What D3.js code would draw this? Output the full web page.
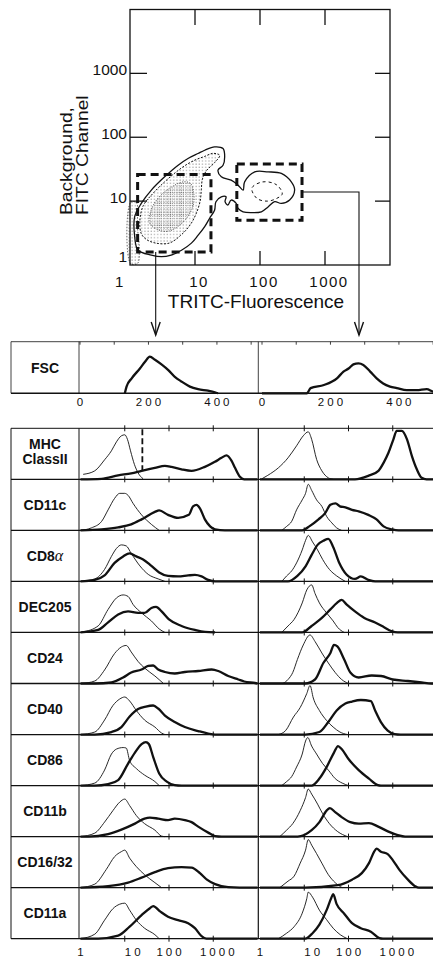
<!DOCTYPE html>
<html>
<head>
<meta charset="utf-8">
<script src="https://cdn.jsdelivr.net/npm/d3@7"></script>
<style>
  body { margin: 0; background: #fff; }
  svg { display: block; font-family: "Liberation Sans", Arial, sans-serif; }
</style>
</head>
<body>
<svg id="fig" width="433" height="958"></svg>
<script>
// ---------- data: dot plot (TRITC vs background FITC) ----------
const scatterTicks = [1, 10, 100, 1000];
// contour outlines as [TRITC, FITC] pairs
const outerContour = [[1.33,1.7],[1.18,2.8],[1.18,5.7],[1.49,9.2],[2.13,14.9],[3.41,24],[5.5,36.5],[7.8,46.5],
  [11.1,55.6],[14.1,62.6],[20,70.6],[27,66.5],[28.6,49.3],[27,36.5],[22.6,30.5],[25.4,24],[36,21.3],[46,17.8],
  [55,14.9],[58,20],[83,28.7],[133,28.7],[213,27.1],[303,20],[341,14.9],[286,10.4],[213,9.2],[168,9.8],[133,8.1],
  [105,6.8],[73,6.6],[55,6.8],[46,7.7],[43,9.2],[36,10.4],[32,8.7],[29,9.8],[30,11.7],[25.4,11.7],[21,9.8],
  [20,7.2],[16.8,5.4],[14.1,4.0],[11.1,2.9],[8.8,2.2],[6.2,1.7],[4.3,1.43],[3.04,1.35],[2.13,1.43]];
const midContour = [[1.49,3.1],[1.42,5],[1.6,8.5],[2.3,13.5],[3.4,20],[5,28],[7,36],[10,44],[14,50],[19,56],
  [24,52],[20,40],[15,30],[13,22],[12.5,15],[12,10],[10.5,6.5],[8.5,4.3],[6,2.9],[4,2.2],[2.5,2.2],[1.8,2.5]];
const coreContour = [[2.0,4.5],[2.2,8],[3,12.5],[4.5,17],[6.5,20],[8.5,19],[9.5,14],[9.5,9],[8,6],[6,4.3],[4,3.4],[2.8,3.5]];
const axisContour = [[1.02,1.05],[1.02,9.5],[1.25,9.5],[1.3,4],[1.4,1.5],[1.3,1.05]];
const highCoreContour = [[75,16],[110,20],[180,18],[220,13],[180,11],[130,10],[90,11]];
// gates: [[xmin, ymin], [xmax, ymax]]
const gateLow = [[1.31, 1.6], [17.6, 26]];
const gateHigh = [[44, 5.0], [443, 38]];

// ---------- data: FSC histograms ----------
const fscTicks = [0, 200, 400];
const fscLow = [[131,0],[136,13],[151,29],[175,48],[190,61],[204,71],[219,65],[238,56],[258,45],[277,32],
  [296,23],[321,13],[345,8],[374,5],[394,2],[403,0]];
const fscHigh = [[0,0],[131,0],[142,10],[181,16],[219,29],[238,42],[253,48],[267,56],[282,58],[296,55],
  [316,42],[335,29],[354,19],[374,13],[394,10],[423,6],[452,6],[481,8],[501,3],[520,2]];

// ---------- data: marker histograms (intensity, % of max) ----------
const histTicks = [1, 10, 100, 1000];
const markers = ["MHC|ClassII", "CD11c", "CD8α", "DEC205", "CD24", "CD40", "CD86", "CD11b", "CD16/32", "CD11a"];
const mhcCutoff = 25;

const ctrlLow = [
  [[1.15,10],[2.1,17],[3.5,39],[5,57],[6.5,75],[8.4,87],[10,89],[11.5,80],[13.5,57],[16.5,30],[20,13],[26,1]],
  [[1,0],[1.76,5],[3,18],[4.2,41],[5.9,64],[7.7,74],[10,74],[11.9,70],[15.4,54],[24,31],[40,12],[60,0]],
  [[1,0],[2.1,5],[3.5,24],[5,50],[6.5,66],[8.4,73],[10.8,71],[14,56],[22,31],[34,14],[57,5],[81,0]],
  [[1.1,1],[2.5,13],[4.2,46],[6.5,69],[9.2,75],[11.9,72],[15.4,56],[24,39],[40,23],[60,7],[81,0]],
  [[1.05,0],[2.1,5],[3.5,27],[5.9,60],[8.4,73],[10.8,76],[14,63],[20,44],[28,31],[48,15],[75,0]],
  [[1,0],[2.1,5],[3.5,29],[5.4,58],[7.7,71],[10,75],[12.9,67],[18.3,48],[28,29],[48,15],[68,3],[81,0]],
  [[1,0],[2.1,5],[3.5,31],[5,63],[6.5,73],[9.2,76],[10.8,75],[12.9,50],[18.3,34],[28,21],[48,8],[60,0]],
  [[1,0],[2.1,7],[3.5,29],[5.4,52],[7.7,69],[10,75],[12.9,62],[18.3,42],[28,26],[48,13],[68,1],[81,0]],
  [[1,0],[2.1,7],[3.8,36],[5.9,62],[8.4,72],[10,75],[12.9,59],[18.3,42],[28,26],[48,10],[68,0]],
  [[1,0],[2.1,9],[3.5,37],[5.4,60],[7.7,69],[10,71],[12.9,57],[18.3,37],[28,21],[48,8],[60,0]]
];
const stainLow = [
  [[1,0],[3,1],[7.1,8],[14,12],[24,17],[48,23],[81,27],[114,25],[192,20],[323,17],[647,25],[1090,35],[1540,43],
   [2000,48],[2600,37],[3100,23],[4000,5],[5000,0],[10000,0]],
  [[1,0],[3,2],[7.1,6],[14,12],[24,22],[48,37],[60,40],[95,31],[161,25],[280,31],[350,48],[420,51],[500,44],
   [647,22],[850,8],[1100,2],[1830,0],[10000,0]],
  [[1,0],[2.1,3],[3.5,12],[5.9,37],[9.2,50],[12.9,56],[18.3,50],[26,44],[40,31],[60,18],[95,11],[161,10],
   [271,12],[385,13],[544,10],[770,3],[1100,0],[10000,0]],
  [[1,0],[2.5,5],[4.2,20],[7.1,36],[11.9,42],[20,39],[28,39],[40,49],[51,51],[68,42],[100,26],[192,13],
   [385,5],[650,1],[1100,0]],
  [[1,0],[2.1,0],[5,2],[9.2,12],[14,22],[24,28],[34,35],[44,36],[57,28],[81,23],[135,20],[228,23],[457,25],
   [920,28],[1300,25],[2180,15],[3690,8],[5000,4],[8770,1],[10000,0]],
  [[1,0],[2.1,0],[5,5],[8.4,15],[12.9,36],[20,51],[30,56],[44,58],[57,52],[81,38],[135,25],[228,15],[457,7],
   [770,2],[1100,0],[10000,0]],
  [[1,0],[2.1,0],[4.2,3],[7.1,11],[11.9,44],[17,66],[24,83],[30,87],[35,83],[44,57],[60,24],[89,8],[135,1],
   [192,0],[10000,0]],
  [[1,0],[1.5,0],[4.2,5],[8.4,14],[17,26],[28,36],[37,38],[57,36],[95,33],[135,36],[228,33],[323,29],[457,20],
   [770,8],[1100,1],[1540,0],[10000,0]],
  [[1,0],[4.2,3],[11.9,10],[24,20],[48,31],[95,39],[192,41],[323,40],[500,29],[720,16],[1100,7],[2180,1],
   [7000,0],[10000,0]],
  [[1,0],[2.5,0],[7.1,6],[12.9,24],[24,47],[37,61],[44,65],[64,54],[95,44],[161,37],[271,31],[385,21],[544,5],
   [700,0],[10000,0]]
];
const ctrlHigh = [
  [[1.1,1],[1.5,8],[2.6,23],[4.3,43],[6.7,67],[9.5,87],[12.3,95],[14.7,80],[19,40],[25,17],[35,3],[45,0]],
  [[3.1,0],[4,8],[5.2,18],[6.7,41],[9,61],[10.7,74],[12.3,92],[14.7,80],[19,61],[25,48],[32,28],[42,15],[54,5],[70,0]],
  [[3.1,0],[4,11],[5.2,21],[6.7,37],[9,63],[10.7,82],[12.3,92],[15.4,79],[20,63],[26,44],[37,24],[54,11],[85,0]],
  [[3.1,0],[4.3,13],[5.9,26],[9,59],[11.4,85],[14.7,95],[17.5,78],[22,59],[32,39],[45,23],[57,10],[80,0]],
  [[3.3,0],[4.3,8],[5.5,22],[7,48],[9.5,77],[13.5,97],[17.5,84],[25,61],[35,41],[50,22],[70,8],[100,0]],
  [[2.6,0],[3.8,8],[5.7,35],[8.1,54],[11.4,82],[13.5,98],[16,73],[22,48],[32,28],[45,15],[64,5],[95,0]],
  [[3.1,0],[4,8],[5.2,18],[6.7,37],[9,63],[10.7,89],[12,96],[14.7,79],[19,63],[26,44],[35,31],[50,14],[72,5],[100,0]],
  [[2.8,0],[4,13],[5.5,26],[8.1,52],[10.7,78],[12.3,95],[14.7,85],[20,65],[26,46],[37,26],[57,10],[95,0]],
  [[2.8,0],[4.3,13],[5.9,23],[8.1,49],[10.7,75],[12.3,96],[14.7,85],[19,68],[25,49],[35,26],[50,10],[72,0]],
  [[2.6,0],[4,11],[5.9,24],[9,51],[11.4,80],[12.3,93],[15.4,83],[22,57],[32,38],[45,21],[65,8],[95,0]]
];
const stainHigh = [
  [[1,0],[140,0],[280,7],[475,17],[620,33],[800,53],[1035,80],[1230,97],[1600,97],[2100,80],[2700,47],
   [3500,20],[4500,3],[5800,0],[10000,0]],
  [[1,0],[9,0],[13,8],[21,22],[30,35],[39,51],[51,54],[64,48],[85,46],[120,41],[170,38],[280,31],[430,22],
   [620,8],[960,2],[1340,0],[10000,0]],
  [[1,0],[4.3,0],[7,11],[10.7,30],[14.7,53],[20,73],[28,82],[35,85],[45,69],[62,37],[90,14],[140,5],[190,10],
   [280,3],[400,0],[10000,0]],
  [[1,0],[9,0],[14.7,13],[25,29],[39,46],[55,59],[70,65],[90,56],[140,42],[228,29],[400,20],[650,10],[920,3],
   [1300,0],[10000,0]],
  [[1,0],[10.5,0],[17.5,8],[27,41],[39,61],[47,77],[56,74],[80,48],[110,22],[170,12],[335,16],[545,15],
   [1000,8],[2200,5],[4500,2],[7500,0],[10000,0]],
  [[1,0],[10.5,0],[22,5],[35,25],[54,48],[85,62],[120,66],[190,69],[320,67],[400,48],[540,25],[770,8],
   [1100,1],[1500,0],[10000,0]],
  [[1,0],[14.7,0],[22,14],[32,37],[47,66],[58,79],[70,73],[100,53],[170,31],[290,14],[460,1],[540,0],[10000,0]],
  [[1,0],[7.1,0],[14.7,13],[22,29],[32,52],[38,57],[50,49],[70,39],[110,29],[170,26],[290,27],[470,20],
   [800,10],[1300,3],[1900,0],[10000,0]],
  [[1,0],[10.5,0],[57,5],[120,16],[200,29],[290,49],[380,72],[430,78],[540,72],[770,67],[1000,55],[1400,36],
   [2200,16],[3200,3],[3900,0],[10000,0]],
  [[1,0],[10.5,0],[15.4,11],[22,28],[32,57],[41,82],[45,89],[54,69],[80,50],[120,31],[190,21],[320,14],
   [500,1],[600,0],[10000,0]]
];

// ---------- layout ----------
const svg = d3.select("#fig");
const ink = "#111";

const defs = svg.append("defs");
function stipple(id, step, size) {
  defs.append("pattern").attr("id", id)
    .attr("width", step).attr("height", step).attr("patternUnits", "userSpaceOnUse")
    .append("rect").attr("x", 0.5).attr("y", 0.5).attr("width", size).attr("height", size).attr("fill", "#333");
}
stipple("stipLight", 3.2, 0.8);
stipple("stipDense", 2.2, 0.8);

// --- dot plot ---
const sx = d3.scaleLog().domain([1, 1e4]).range([130, 390]);
const sy = d3.scaleLog().domain([1, 1e4]).range([265, 9.5]);
const dot = svg.append("g");

const closed = d3.line().x(d => sx(d[0])).y(d => sy(d[1])).curve(d3.curveCatmullRomClosed.alpha(0.5));

dot.append("path").attr("d", closed(outerContour))
  .attr("fill", "#fff").attr("stroke", ink).attr("stroke-width", 1.3);
dot.append("path").attr("d", closed(axisContour))
  .attr("fill", "url(#stipLight)").attr("stroke", "#444").attr("stroke-width", 0.8).attr("stroke-dasharray", "1.5,1.5");
dot.append("path").attr("d", closed(midContour))
  .attr("fill", "url(#stipLight)").attr("stroke", ink).attr("stroke-width", 1).attr("stroke-dasharray", "2,1.5");
dot.append("path").attr("d", closed(coreContour))
  .attr("fill", "url(#stipDense)").attr("stroke", "#333").attr("stroke-width", 0.8).attr("stroke-dasharray", "1,1.5");
dot.append("path").attr("d", closed(highCoreContour))
  .attr("fill", "none").attr("stroke", ink).attr("stroke-width", 1).attr("stroke-dasharray", "3,3");

// frame and ticks
const ticksG = dot.append("g").attr("stroke", ink).attr("stroke-width", 1.3);
ticksG.append("rect").attr("x", 130).attr("y", 9.5).attr("width", 260).attr("height", 255.5).attr("fill", "none");
scatterTicks.slice(1).forEach(v => {
  ticksG.append("line").attr("x1", sx(v)).attr("x2", sx(v)).attr("y1", 9.5).attr("y2", 25);
  ticksG.append("line").attr("x1", sx(v)).attr("x2", sx(v)).attr("y1", 265).attr("y2", 251);
  ticksG.append("line").attr("x1", 130).attr("x2", 147).attr("y1", sy(v)).attr("y2", sy(v));
  ticksG.append("line").attr("x1", 390).attr("x2", 375).attr("y1", sy(v)).attr("y2", sy(v));
});

dot.selectAll(".ylab").data(scatterTicks).enter().append("text")
  .attr("class", "ylab")
  .attr("x", 127).attr("y", d => Math.min(sy(d) + 1.5, 262))
  .attr("text-anchor", "end").attr("font-size", 15.5).attr("fill", ink)
  .text(d => d);
dot.selectAll(".xlab").data(scatterTicks).enter().append("text")
  .attr("class", "xlab")
  .attr("x", (d, i) => sx(d) + (i === 0 ? -10 : 4)).attr("y", 287)
  .attr("text-anchor", "middle").attr("font-size", 15).attr("letter-spacing", 1.5).attr("fill", ink)
  .text(d => d);

dot.append("text").attr("x", 256).attr("y", 308).attr("text-anchor", "middle")
  .attr("font-size", 19).attr("fill", ink).text("TRITC-Fluorescence");
// rotated two-line axis title, slightly stretched along the text like the original type
dot.append("text").attr("transform", "translate(71.7,215) rotate(-90) scale(1.18,1)")
  .attr("font-size", 16.3).attr("fill", ink).text("Background,");
dot.append("text").attr("transform", "translate(87.7,215) rotate(-90) scale(1.18,1)")
  .attr("font-size", 16.3).attr("fill", ink).text("FITC Channel");

// gates
[gateLow, gateHigh].forEach(g => {
  dot.append("rect")
    .attr("x", sx(g[0][0])).attr("y", sy(g[1][1]))
    .attr("width", sx(g[1][0]) - sx(g[0][0])).attr("height", sy(g[0][1]) - sy(g[1][1]))
    .attr("fill", "none").attr("stroke", ink).attr("stroke-width", 3).attr("stroke-dasharray", "8,5");
});

// connectors to the histogram columns
const arrowTip = 335;
const lowX = 155.7, highX = 359;
dot.append("path")
  .attr("d", `M${lowX},${sy(gateLow[0][1])}V${arrowTip}`)
  .attr("fill", "none").attr("stroke", ink).attr("stroke-width", 1.1);
dot.append("path")
  .attr("d", `M${sx(gateHigh[1][0])},192H${highX}V${arrowTip}`)
  .attr("fill", "none").attr("stroke", ink).attr("stroke-width", 1.1);
[lowX, highX].forEach(x => {
  dot.append("path").attr("d", `M${x - 4.5},${arrowTip - 13}L${x},${arrowTip}L${x + 4.5},${arrowTip - 13}`)
    .attr("fill", "none").attr("stroke", ink).attr("stroke-width", 1.4);
});

// --- histogram block ---
const hist = svg.append("g");
const boxLeft = 11, labelRight = 79, midX = 258.3, boxRight = 437;
const fscTop = 341.7, fscBottom = 393.3;
const histTop = 428.3, rowH = 51.04;

function hline(y, w) {
  hist.append("line").attr("x1", boxLeft).attr("x2", boxRight).attr("y1", y).attr("y2", y)
    .attr("stroke", ink).attr("stroke-width", w);
}
function vline(x, y1, y2, w) {
  hist.append("line").attr("x1", x).attr("x2", x).attr("y1", y1).attr("y2", y2)
    .attr("stroke", ink).attr("stroke-width", w);
}

// FSC row
const fscCols = [
  { x: d3.scaleLinear().domain([0, 520]).range([80, 258]), data: fscLow },
  { x: d3.scaleLinear().domain([0, 520]).range([262, 440]), data: fscHigh }
];
const fscY = d3.scaleLinear().domain([0, 100]).range([fscBottom, fscTop]);
hline(fscTop, 0.8);
vline(boxLeft, fscTop, fscBottom, 0.8);
vline(labelRight, fscTop, fscBottom, 0.8);
vline(midX, fscTop, fscBottom, 0.8);
fscCols.forEach(c => {
  d3.range(0, 501, 100).forEach(v => vline(c.x(v), fscTop, fscTop + 3, 0.8));
  hist.append("path")
    .attr("d", d3.line().x(d => c.x(d[0])).y(d => fscY(d[1])).curve(d3.curveMonotoneX)(c.data))
    .attr("fill", "none").attr("stroke", ink).attr("stroke-width", 2.3).attr("stroke-linejoin", "round");
  hist.selectAll(null).data(fscTicks).enter().append("text")
    .attr("x", d => c.x(d) + 1.5).attr("y", 406).attr("text-anchor", "middle")
    .attr("font-size", 11.5).attr("letter-spacing", 3).attr("fill", ink).text(d => d);
});
hline(fscBottom, 1.5);
hist.append("text").attr("x", 45).attr("y", (fscTop + fscBottom) / 2 + 5)
  .attr("text-anchor", "middle").attr("font-size", 14).attr("font-weight", "bold").attr("fill", ink).text("FSC");

// marker rows
const histCols = [
  { x: d3.scaleLog().domain([1, 1e4]).range([80.5, 257.5]), ctrl: ctrlLow, stain: stainLow },
  { x: d3.scaleLog().domain([1, 1e4]).range([260, 437]), ctrl: ctrlHigh, stain: stainHigh }
];
const labelNudge = [0, 8, 0, 4];
const rowLines = d3.range(markers.length + 1).map(i => histTop + i * rowH);

vline(boxLeft, histTop, rowLines[markers.length], 1);
vline(labelRight, histTop, rowLines[markers.length], 1);
vline(midX, histTop, rowLines[markers.length], 1.2);

markers.forEach((m, i) => {
  const y = d3.scaleLinear().domain([0, 100]).range([rowLines[i + 1], rowLines[i] + 1]);
  histCols.forEach(c => {
    const ln = d3.line().x(d => c.x(d[0])).y(d => y(d[1])).curve(d3.curveMonotoneX);
    hist.append("path").attr("d", ln(c.ctrl[i]))
      .attr("fill", "none").attr("stroke", ink).attr("stroke-width", 0.9);
    hist.append("path").attr("d", ln(c.stain[i]))
      .attr("fill", "none").attr("stroke", ink).attr("stroke-width", 2.3).attr("stroke-linejoin", "round");
  });
  if (i === 0) {
    const xc = histCols[0].x(mhcCutoff);
    hist.append("line").attr("x1", xc).attr("x2", xc).attr("y1", rowLines[0] + 1).attr("y2", y(16))
      .attr("stroke", ink).attr("stroke-width", 1.8).attr("stroke-dasharray", "6,3");
  }
  // row label
  const cy = (rowLines[i] + rowLines[i + 1]) / 2;
  const lab = hist.append("text").attr("x", 45).attr("text-anchor", "middle")
    .attr("font-size", 14).attr("font-weight", "bold").attr("fill", ink);
  const parts = m.split("|");
  if (parts.length > 1) {
    parts.forEach((p, k) => lab.append("tspan").attr("x", 45).attr("y", cy - 2.5 + (k - 0.5) * 15 + 5).text(p));
  } else if (m.endsWith("α")) {
    lab.attr("y", cy + 5);
    lab.append("tspan").text(m.slice(0, -1));
    lab.append("tspan").attr("font-family", "Liberation Serif").attr("font-style", "italic")
      .attr("font-weight", "normal").attr("font-size", 16).text("α");
  } else {
    lab.attr("y", cy + 5).text(m);
  }
});

rowLines.forEach((yy, k) => {
  hline(yy, k === 0 ? 1 : 1.3);
  histCols.forEach(c => histTicks.slice(1).forEach(v => vline(c.x(v), yy - 3, yy + 3, 1)));
});

histCols.forEach(c => {
  hist.selectAll(null).data(histTicks).enter().append("text")
    .attr("x", (d, i) => c.x(d) + labelNudge[i] + 1.5).attr("y", 956).attr("text-anchor", "middle")
    .attr("font-size", 11.5).attr("letter-spacing", 3).attr("fill", ink).text(d => d);
});
</script>
</body>
</html>
